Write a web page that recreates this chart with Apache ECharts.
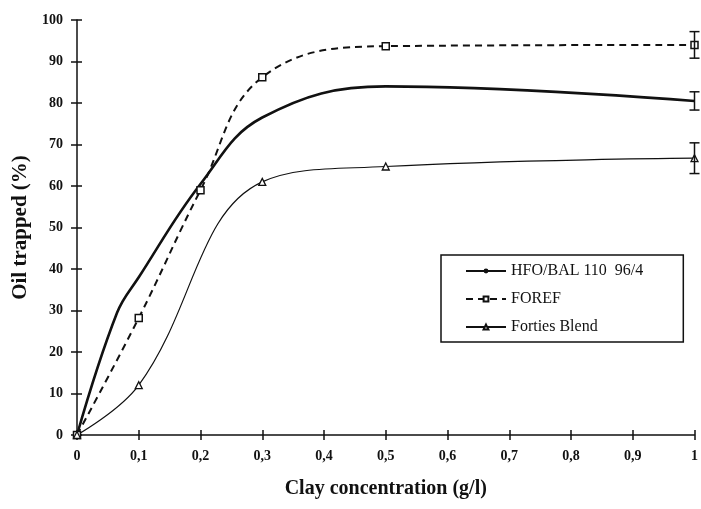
<!DOCTYPE html>
<html>
<head>
<meta charset="utf-8">
<script src="https://cdn.jsdelivr.net/npm/echarts@6/dist/echarts.min.js"></script>
<style>
  html, body { margin: 0; padding: 0; background: #fff; }
  #chart { width: 701px; height: 509px; }
</style>
</head>
<body>
<div id="chart"></div>
<script>
// Oil trapped vs clay concentration for three oils
const xTicks = [0, 0.1, 0.2, 0.3, 0.4, 0.5, 0.6, 0.7, 0.8, 0.9, 1];

const hfoX = [0, 0.065, 0.1, 0.2, 0.3, 0.5, 1];
const hfoY = [0, 29.5, 38, 60.5, 76.5, 84, 80.5];

const forefX = [0, 0.1, 0.2, 0.3, 0.5, 1];
const forefY = [0, 28.2, 59, 86.2, 93.7, 94];

const fortiesX = [0, 0.1, 0.3, 0.5, 1];
const fortiesY = [0, 12, 61, 64.7, 66.7];

// error bars at the last concentration: [x, low, high]
const errX = [1, 1, 1];
const errLow = [90.8, 78.3, 63.0];
const errHigh = [97.2, 82.7, 70.4];

const seriesNames = ['HFO/BAL 110  96/4', 'FOREF', 'Forties Blend'];

const pairs = (xs, ys) => xs.map((x, i) => [x, ys[i]]);
const ink = '#111';
const serif = '"Liberation Serif", "DejaVu Serif", serif';

const fmtX = v => {
  const r = Math.round(v * 10) / 10;
  if (r === 0) return '0';
  if (r === 1) return '1';
  return r.toFixed(1).replace('.', ',');
};

const chart = echarts.init(document.getElementById('chart'), null, { renderer: 'canvas' });

const baseX = {
  type: 'value', min: 0, max: 1, interval: 0.1,
  splitLine: { show: false }
};
const baseY = {
  type: 'value', min: 0, max: 100, interval: 10,
  splitLine: { show: false }
};

chart.setOption({
  backgroundColor: '#fff',
  animation: false,
  grid: { left: 77, right: 6, top: 20, bottom: 74, containLabel: false },
  legend: {
    orient: 'vertical',
    left: 441, top: 255,
    padding: [8, 40, 7, 24],
    itemWidth: 40, itemHeight: 6, itemGap: 12,
    borderColor: ink, borderWidth: 1.5,
    backgroundColor: '#fff',
    data: seriesNames,
    textStyle: { fontFamily: serif, fontSize: 16, color: ink }
  },
  xAxis: [
    Object.assign({}, baseX, {
      position: 'bottom',
      name: 'Clay concentration (g/l)',
      nameLocation: 'middle', nameGap: 44,
      nameTextStyle: { fontFamily: serif, fontSize: 20, fontWeight: 'bold', color: ink },
      axisLine: { show: true, lineStyle: { color: ink, width: 1.5 } },
      axisTick: { show: true, length: 5, lineStyle: { color: ink, width: 1.5 } },
      axisLabel: { formatter: fmtX, margin: 14, fontFamily: serif, fontSize: 14, fontWeight: 'bold', color: ink,
                   showMinLabel: true, showMaxLabel: true }
    }),
    Object.assign({}, baseX, {
      position: 'bottom',
      axisLine: { show: false },
      axisTick: { show: true, inside: true, length: 5, lineStyle: { color: ink, width: 1.5 } },
      axisLabel: { show: false }
    })
  ],
  yAxis: [
    Object.assign({}, baseY, {
      position: 'left',
      name: 'Oil trapped (%)',
      nameLocation: 'middle', nameGap: 45,
      nameTextStyle: { fontFamily: serif, fontSize: 21, fontWeight: 'bold', color: ink },
      axisLine: { show: true, lineStyle: { color: ink, width: 1.5 } },
      axisTick: { show: true, length: 6, lineStyle: { color: ink, width: 1.5 } },
      axisLabel: { margin: 14, fontFamily: serif, fontSize: 14, fontWeight: 'bold', color: ink }
    }),
    Object.assign({}, baseY, {
      position: 'left', offset: 0,
      axisLine: { show: false },
      axisTick: { show: true, inside: true, length: 5, lineStyle: { color: ink, width: 1.5 } },
      axisLabel: { show: false }
    })
  ],
  series: [
    {
      name: seriesNames[0], type: 'line', smooth: 0.4,
      data: pairs(hfoX, hfoY),
      symbol: 'none',
      lineStyle: { color: ink, width: 2.6 },
      itemStyle: { color: ink }
    },
    {
      name: seriesNames[1], type: 'line', smooth: 0.4,
      data: pairs(forefX, forefY),
      symbol: 'rect', symbolSize: 7,
      lineStyle: { color: ink, width: 2, type: [7, 5] },
      itemStyle: { color: '#fff', borderColor: ink, borderWidth: 1.5 }
    },
    {
      name: seriesNames[2], type: 'line', smooth: 0.4,
      data: pairs(fortiesX, fortiesY),
      symbol: 'triangle', symbolSize: 7,
      lineStyle: { color: ink, width: 1.2 },
      itemStyle: { color: '#fff', borderColor: ink, borderWidth: 1.3 }
    },
    {
      type: 'custom',
      name: 'error',
      clip: false,
      data: errX.map((x, i) => [x, errLow[i], errHigh[i]]),
      renderItem: (params, api) => {
        const lo = api.coord([api.value(0), api.value(1)]);
        const hi = api.coord([api.value(0), api.value(2)]);
        const half = 5;
        const style = { stroke: ink, lineWidth: 1.5 };
        return {
          type: 'group',
          children: [
            { type: 'line', shape: { x1: lo[0], y1: lo[1], x2: hi[0], y2: hi[1] }, style },
            { type: 'line', shape: { x1: lo[0] - half, y1: lo[1], x2: lo[0] + half, y2: lo[1] }, style },
            { type: 'line', shape: { x1: hi[0] - half, y1: hi[1], x2: hi[0] + half, y2: hi[1] }, style }
          ]
        };
      },
      z: 5
    }
  ]
});
</script>
</body>
</html>
